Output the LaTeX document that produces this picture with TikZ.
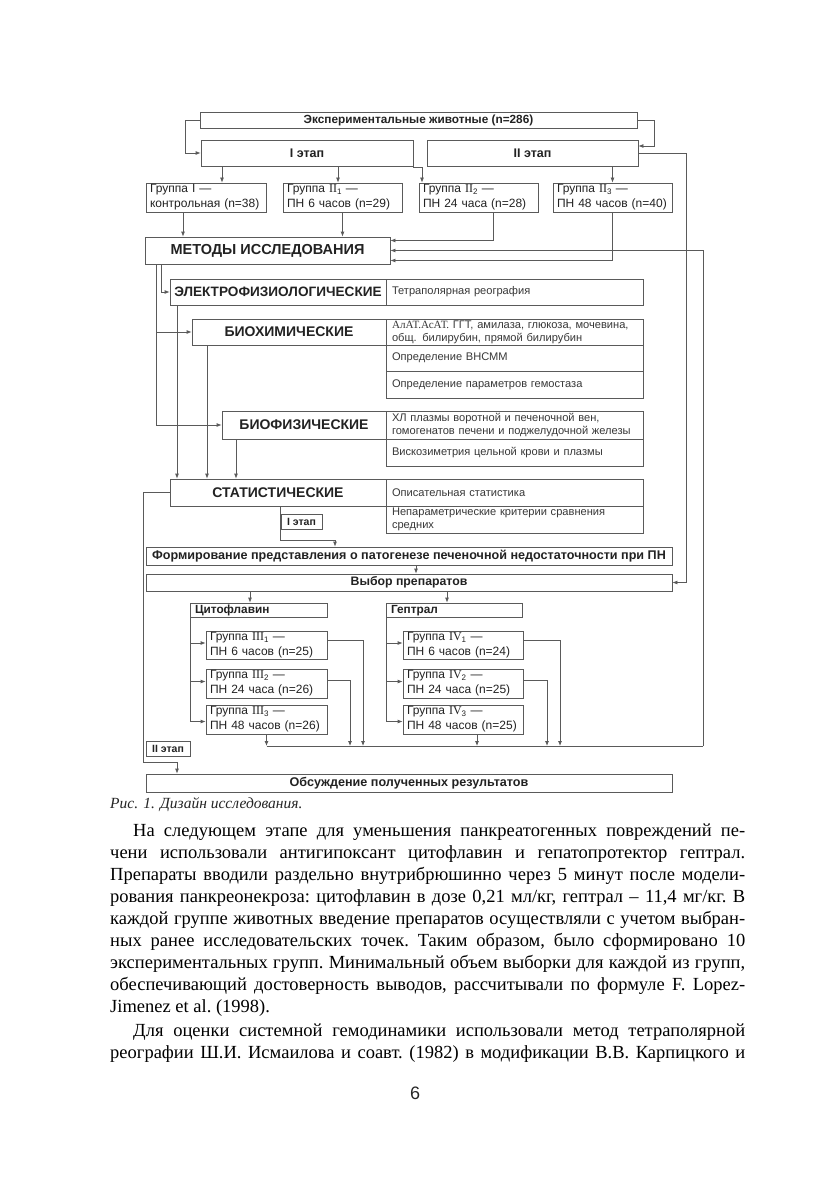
\documentclass[tikz,border=0pt]{standalone}
\usepackage{fontspec}
\setmainfont{Liberation Serif}
\newfontfamily\dsans{Liberation Sans}
\usetikzlibrary{arrows.meta}
\definecolor{lc}{HTML}{5A5A5A}
\definecolor{tc}{HTML}{222222}
\newcommand\rn[2]{{\rmfamily #1}\textsubscript{#2}}
\newcommand\bodyfont{\rmfamily\fontsize{18.5}{22}\selectfont\frenchspacing}
\begin{document}
\begin{tikzpicture}[x=1pt,y=-1pt,
 box/.style={draw=lc, line width=0.8pt, inner sep=0pt, text=tc, font=\dsans\bfseries\fontsize{12.5}{14}\selectfont},
 tbox/.style={box, font=\dsans\bfseries\fontsize{14}{16}\selectfont},
 grp/.style={draw=lc, line width=0.8pt, inner xsep=4pt, inner ysep=0pt, align=left, text=tc, font=\dsans\fontsize{12}{15}\selectfont},
 lbox/.style={draw=lc, line width=0.8pt, inner xsep=5pt, inner ysep=0pt, align=left, text height=9pt, text depth=3pt, text=tc, font=\dsans\bfseries\fontsize{11.8}{13}\selectfont},
 cell/.style={draw=lc, line width=0.8pt, inner xsep=6pt, inner ysep=0pt, align=left, text width=245pt, minimum height=26pt, text=tc!90, font=\dsans\fontsize{11.1}{13}\selectfont},
 arr/.style={draw=lc, line width=0.8pt, -{Latex[length=5pt,width=4pt]}},
 ln/.style={draw=lc, line width=0.8pt},
 bl/.style={anchor=base west, inner sep=0pt, text=black, font=\bodyfont},
]
\useasboundingbox[fill=white] (0,0) rectangle (830,1177);

% top level
\node[box, minimum width=437pt, minimum height=16pt, font=\dsans\bfseries\fontsize{11.8}{13}\selectfont] (top) at (418.5,120) {Экспериментальные животные (n=286)};
\node[box, minimum width=212pt, minimum height=26pt] (st1) at (307,153) {I этап};
\node[box, minimum width=211pt, minimum height=26pt] (st2) at (532.5,153) {II этап};

% groups
\node[grp, text width=112pt, minimum height=29pt] (g1) at (206,197.5) {Группа I —\\контрольная (n=38)};
\node[grp, text width=111pt, minimum height=29pt] (g2) at (342.5,197.5) {Группа \rn{II}{1} —\\ПН 6 часов (n=29)};
\node[grp, text width=111pt, minimum height=29pt] (g3) at (478.5,197.5) {Группа \rn{II}{2} —\\ПН 24 часа (n=28)};
\node[grp, text width=111pt, minimum height=29pt] (g4) at (612.5,197.5) {Группа \rn{II}{3} —\\ПН 48 часов (n=40)};

% methods
\node[box, minimum width=245pt, minimum height=27pt, font=\dsans\bfseries\fontsize{14.5}{16}\selectfont] (meth) at (267.5,250.5) {МЕТОДЫ ИССЛЕДОВАНИЯ};

\node[tbox, minimum width=216pt, minimum height=26pt, font=\dsans\bfseries\fontsize{13.6}{16}\selectfont] (elL) at (278,292) {ЭЛЕКТРОФИЗИОЛОГИЧЕСКИЕ};
\node[cell] (elR) at (514.5,292) {Тетраполярная реография};

\node[tbox, minimum width=194pt, minimum height=26pt] (bcL) at (289,332) {БИОХИМИЧЕСКИЕ};
\node[cell] (bcR1) at (514.5,332) {{\rmfamily АлАТ.АсАТ.} ГГТ, амилаза, глюкоза, мочевина,\\общ. билирубин, прямой билирубин};
\node[cell] (bcR2) at (514.5,358) {Определение ВНСММ};
\node[cell, minimum height=27pt] (bcR3) at (514.5,384.5) {Определение параметров гемостаза};

\node[tbox, minimum width=164pt, minimum height=28pt] (bpL) at (304,425) {БИОФИЗИЧЕСКИЕ};
\node[cell, minimum height=28pt] (bpR1) at (514.5,425) {ХЛ плазмы воротной и печеночной вен,\\гомогенатов печени и поджелудочной железы};
\node[cell, minimum height=27pt] (bpR2) at (514.5,452.5) {Вискозиметрия цельной крови и плазмы};

\node[tbox, minimum width=216pt, minimum height=27pt] (stL) at (278,492.5) {СТАТИСТИЧЕСКИЕ};
\node[cell, minimum height=27pt] (stR1) at (514.5,492.5) {Описательная статистика};
\node[cell, minimum height=27pt] (stR2) at (514.5,519.5) {Непараметрические критерии сравнения\\средних};

\node[box, minimum width=41pt, minimum height=15pt, font=\dsans\bfseries\fontsize{10.5}{12}\selectfont] (lab1) at (301.5,521.5) {I этап};

\node[box, minimum width=526pt, minimum height=18pt, font=\dsans\bfseries\fontsize{12.6}{14}\selectfont] (form) at (409,556) {Формирование представления о патогенезе печеночной недостаточности при ПН};
\node[box, minimum width=526pt, minimum height=17pt, font=\dsans\bfseries\fontsize{12.3}{14}\selectfont] (vyb) at (409,582.5) {Выбор препаратов};

\node[lbox, text width=127pt, minimum height=14pt] (cito) at (258.5,610) {Цитофлавин};
\node[lbox, text width=126pt, minimum height=14pt] (gept) at (454,610) {Гептрал};

\node[grp, text width=113pt, minimum height=28pt] (t1) at (266.5,645) {Группа \rn{III}{1} —\\ПН 6 часов (n=25)};
\node[grp, text width=113pt, minimum height=29pt] (t2) at (266.5,683.5) {Группа \rn{III}{2} —\\ПН 24 часа (n=26)};
\node[grp, text width=113pt, minimum height=29pt] (t3) at (266.5,719.5) {Группа \rn{III}{3} —\\ПН 48 часов (n=26)};

\node[grp, text width=112pt, minimum height=28pt] (f1) at (463,645) {Группа \rn{IV}{1} —\\ПН 6 часов (n=24)};
\node[grp, text width=112pt, minimum height=29pt] (f2) at (463,683.5) {Группа \rn{IV}{2} —\\ПН 24 часа (n=25)};
\node[grp, text width=112pt, minimum height=29pt] (f3) at (463,719.5) {Группа \rn{IV}{3} —\\ПН 48 часов (n=25)};

\node[box, minimum width=44pt, minimum height=15pt, font=\dsans\bfseries\fontsize{10.5}{12}\selectfont] (lab2) at (168,748.5) {II этап};
\node[box, minimum width=526pt, minimum height=18pt, font=\dsans\bfseries\fontsize{12.6}{14}\selectfont] (obs) at (409,783) {Обсуждение полученных результатов};

\coordinate (colL) at (266.5,746);
\coordinate (colR) at (703,746);

% connectors top
\draw[arr] (top.west) -- ++(-14,0) |- (st1.west);
\draw[arr] (top.east) -- ++(17,0) |- ([yshift=7pt]st2.east);
\draw[arr] (st2.east) -- ++(48,0) |- (vyb.east);
\draw[arr] (222,0 |- st1.south) -- (222,0 |- g1.north);
\draw[arr] (338,0 |- st1.south) -- (338,0 |- g2.north);
\draw[arr] ([yshift=-1.5pt]st1.south east) -| (422,0 |- g3.north);
\draw[arr] (st2.south -| g4.north) -- (g4.north);
\draw[arr] (183,0 |- g1.south) -- (183,0 |- meth.north);
\draw[arr] (g2.south) -- (g2.south |- meth.north);
\draw[arr] (493,0 |- g3.south) |- ([yshift=10pt]meth.east);
\draw[arr] (g4.south) |- ([yshift=-10pt]meth.east);
\draw[arr] (colR) |- (meth.east);

% method branches
\draw[arr] (161,0 |- meth.south) |- (elL.west);
\draw[arr] (156,0 |- meth.south) |- (bpL.west);
\draw[arr] (156,0 |- bcL.west) -- (bcL.west);
\draw[arr] (177,0 |- elL.south) -- (177,0 |- stL.north);
\draw[arr] (207,0 |- bcL.south) -- (207,0 |- stL.north);
\draw[arr] (236,0 |- bpL.south) -- (236,0 |- stL.north);

\draw[arr] (280,0 |- stL.south) -- (280,540) -| (335,0 |- form.north);
\draw[arr] (416,0 |- form.south) -- (416,0 |- vyb.north);
\draw[arr] (250,0 |- vyb.south) -- (250,0 |- cito.north);
\draw[arr] (447,0 |- vyb.south) -- (447,0 |- gept.north);

\draw[arr] ([xshift=1pt]cito.south west) |- ([yshift=2pt]t1.west);
\draw[arr] ([xshift=1pt]cito.south west) |- ([yshift=2pt]t2.west);
\draw[arr] ([xshift=1pt]cito.south west) |- ([yshift=-2pt]t3.west);
\draw[arr] ([xshift=1pt]gept.south west) |- ([yshift=2pt]f1.west);
\draw[arr] ([xshift=1pt]gept.south west) |- ([yshift=2pt]f2.west);
\draw[arr] ([xshift=1pt]gept.south west) |- ([yshift=-2pt]f3.west);

% collector
\draw[ln] (colL) -- (colR);
\draw[arr] (t3.south) -- (colL);
\draw[arr] ([yshift=5pt]t1.east) -| (363,0 |- colR);
\draw[arr] ([yshift=3.5pt]t2.east) -| (350,0 |- colR);
\draw[arr] (477,0 |- f3.south) -- (477,0 |- colR);
\draw[arr] ([yshift=5pt]f1.east) -| (560,0 |- colR);
\draw[arr] ([yshift=3.5pt]f2.east) -| (547,0 |- colR);

% stage II to discussion
\draw[arr] (stL.west) -- (143,0 |- stL.west) -- (143,762) -| (177,0 |- obs.north);

% caption and text
\node[anchor=base west, inner sep=0pt, text=black!85, font=\rmfamily\itshape\fontsize{15.5}{17}\selectfont] (cap) at (110,808) {Рис. 1. Дизайн исследования.};

\node[bl] (l1) at (133,836) {\makebox[612pt][s]{На следующем этапе для уменьшения панкреатогенных повреждений пе-}};
\node[bl] (l2) at (110,858) {\makebox[635pt][s]{чени использовали антигипоксант цитофлавин и гепатопротектор гептрал.}};
\node[bl] (l3) at (110,880) {\makebox[635pt][s]{Препараты вводили раздельно внутрибрюшинно через 5 минут после модели-}};
\node[bl] (l4) at (110,902) {\makebox[635pt][s]{рования панкреонекроза: цитофлавин в дозе 0,21 мл/кг, гептрал – 11,4 мг/кг. В}};
\node[bl] (l5) at (110,924) {\makebox[635pt][s]{каждой группе животных введение препаратов осуществляли с учетом выбран-}};
\node[bl] (l6) at (110,946) {\makebox[635pt][s]{ных ранее исследовательских точек. Таким образом, было сформировано 10}};
\node[bl] (l7) at (110,968) {\makebox[635pt][s]{экспериментальных групп. Минимальный объем выборки для каждой из групп,}};
\node[bl] (l8) at (110,990) {\makebox[635pt][s]{обеспечивающий достоверность выводов, рассчитывали по формуле F. Lopez-}};
\node[bl] (l9) at (110,1012) {Jimenez et al. (1998).};
\node[bl] (l10) at (133,1036) {\makebox[612pt][s]{Для оценки системной гемодинамики использовали метод тетраполярной}};
\node[bl] (l11) at (110,1058) {\makebox[635pt][s]{реографии Ш.И. Исмаилова и соавт. (1982) в модификации В.В. Карпицкого и}};

\node[inner sep=0pt, text=black!85, font=\dsans\fontsize{18}{20}\selectfont] (pg) at (415,1093) {6};
\end{tikzpicture}
\end{document}
